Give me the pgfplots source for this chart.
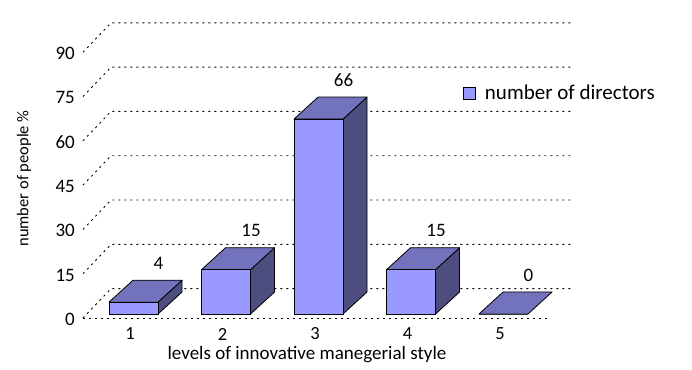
\documentclass[border=0pt]{standalone}
\usepackage{fontspec}
\setmainfont{Carlito}
\usepackage{pgfplots}
\usepackage{pgfplotstable}
\pgfplotsset{compat=1.18}
\definecolor{front}{RGB}{153,153,255}
\definecolor{topc}{RGB}{115,115,189}
\definecolor{sidec}{RGB}{77,77,128}
\pgfplotstableread{
x v
1 4
2 15
3 66
4 15
5 0
}\data
\begin{document}
\begin{tikzpicture}
\begin{axis}[
  x=92.5pt, y=2.953pt,
  xmin=-0.44324, xmax=7.03784,
  ymin=-18.9638, ymax=106.332,
  enlargelimits=false,
  clip=false,
  /pgf/number format/assume math mode=true,
  axis line style={draw=none},
  tick style={draw=none},
  xtick={1,2,3,4,5},
  xticklabels={1,2,3,4,5},
  xticklabel style={anchor=center, inner sep=0pt, yshift=36pt, xshift=-3.5pt, font=\fontsize{18.5}{20}\selectfont},
  ytick={-1.8,13.2,28.2,43.2,58.2,73.2,88.2},
  yticklabels={0,15,30,45,60,75,90},
  yticklabel style={anchor=east, inner sep=0pt, xshift=75pt, font=\fontsize{19}{21}\selectfont},
  xlabel={levels of innovative manegerial style},
  xlabel style={at={(axis description cs:0.4436,0.043)}, anchor=center, inner sep=0pt, font=\fontsize{19}{21}\selectfont},
  ylabel={number of people \%},
  ylabel style={at={(axis description cs:0.0347,0.5176)}, anchor=center, inner sep=0pt, font=\fontsize{16.5}{18}\selectfont},
  legend style={at={(axis description cs:0.6691,0.7486)}, anchor=west, draw=none, fill=none, inner sep=0pt, font=\fontsize{21}{23}\selectfont},
  legend image code/.code={\draw[black, line width=0.7pt, fill=front] (0pt,-6pt) rectangle (12pt,6pt); \path (19pt,0pt);},
]
% walls and floor grid
\pgfplotsset{gridl/.style={black, line width=0.9pt, dash pattern=on 2pt off 4pt, forget plot}}
\addplot[gridl] coordinates {(0.454,-1.355) (0.757,8.6) (5.741,8.6)};
\addplot[gridl] coordinates {(0.454,13.645) (0.757,23.6) (5.741,23.6)};
\addplot[gridl] coordinates {(0.454,28.645) (0.757,38.6) (5.741,38.6)};
\addplot[gridl] coordinates {(0.454,43.645) (0.757,53.6) (5.741,53.6)};
\addplot[gridl] coordinates {(0.454,58.645) (0.757,68.6) (5.741,68.6)};
\addplot[gridl] coordinates {(0.454,73.645) (0.757,83.6) (5.741,83.6)};
\addplot[gridl] coordinates {(0.454,88.645) (0.757,98.6) (5.741,98.6)};
\addplot[gridl] coordinates {(0.454,-1.355) (5.490,-1.355)};
% side faces
\pgfplotsset{sidef/.style={draw=black, line width=0.8pt, fill=sidec, line join=round, forget plot}}
\addplot[sidef] coordinates {(1.265,0) (1.525,7.45) (1.525,11.45) (1.265,4)} --cycle;
\addplot[sidef] coordinates {(2.265,0) (2.525,7.45) (2.525,22.45) (2.265,15)} --cycle;
\addplot[sidef] coordinates {(3.265,0) (3.525,7.45) (3.525,73.45) (3.265,66)} --cycle;
\addplot[sidef] coordinates {(4.265,0) (4.525,7.45) (4.525,22.45) (4.265,15)} --cycle;
% top faces
\pgfplotsset{topf/.style={draw=black, line width=0.8pt, fill=topc, line join=round, forget plot}}
\addplot[topf] coordinates {(0.735,4) (1.265,4) (1.525,11.45) (0.995,11.45)} --cycle;
\addplot[topf] coordinates {(1.735,15) (2.265,15) (2.525,22.45) (1.995,22.45)} --cycle;
\addplot[topf] coordinates {(2.735,66) (3.265,66) (3.525,73.45) (2.995,73.45)} --cycle;
\addplot[topf] coordinates {(3.735,15) (4.265,15) (4.525,22.45) (3.995,22.45)} --cycle;
\addplot[topf] coordinates {(4.735,0) (5.265,0) (5.525,7.45) (4.995,7.45)} --cycle;
% front faces
\addplot[ybar, bar width=49pt, bar shift=0pt, draw=black, line width=0.8pt, fill=front,
  nodes near coords,
  every node near coord/.style={anchor=center, xshift=25pt, yshift=39pt, font=\fontsize{19}{21}\selectfont, black}]
  table[x=x, y=v]{\data};
\addlegendentry{number of directors}
\end{axis}
\end{tikzpicture}
\end{document}
